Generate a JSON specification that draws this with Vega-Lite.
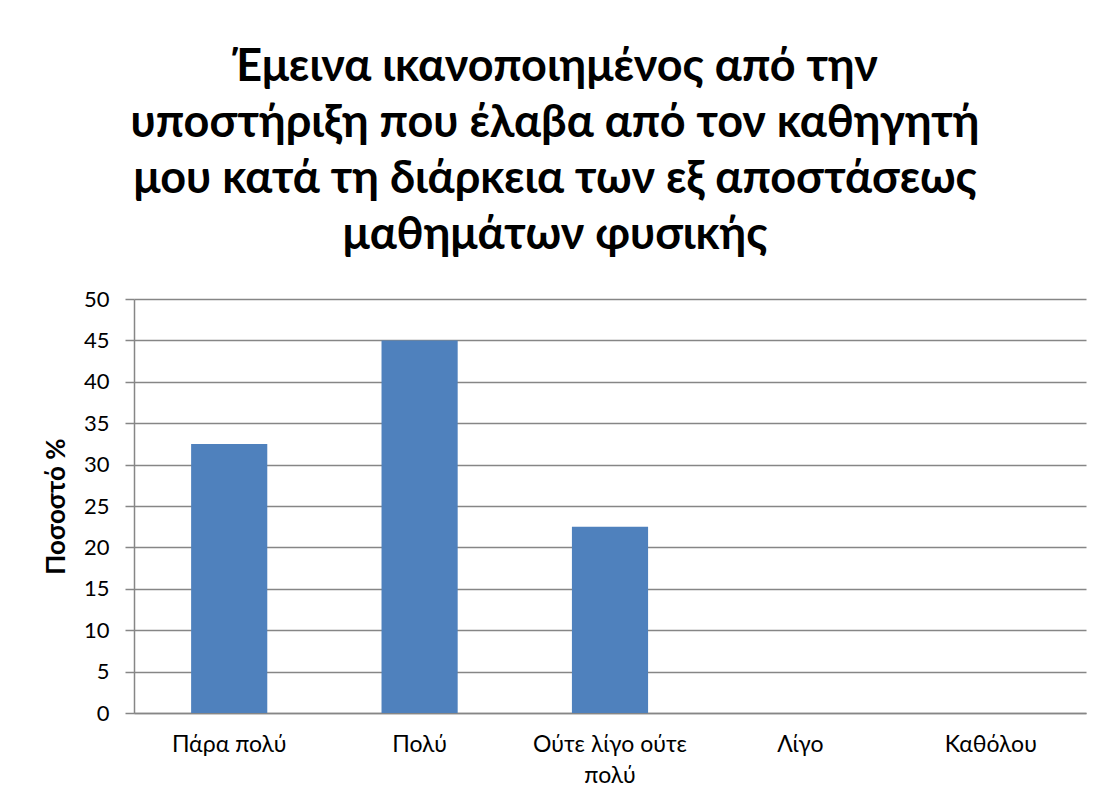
{
  "$schema": "https://vega.github.io/schema/vega-lite/v6.json",
  "autosize": "none",
  "width": 952,
  "height": 414,
  "padding": {"left": 134, "top": 299, "right": 18, "bottom": 92},
  "background": "white",
  "title": {
    "text": ["Έμεινα ικανοποιημένος από την", "υποστήριξη που έλαβα από τον καθηγητή", "μου κατά τη διάρκεια των εξ αποστάσεως", "μαθημάτων φυσικής"],
    "font": "Lato",
    "fontSize": 45,
    "fontWeight": "bold",
    "color": "black",
    "lineHeight": 56,
    "anchor": "middle",
    "dx": -55,
    "offset": 30
  },
  "data": {
    "values": [
      {"category": "Πάρα πολύ", "value": 32.5},
      {"category": "Πολύ", "value": 45},
      {"category": "Ούτε λίγο ούτε πολύ", "value": 22.5},
      {"category": "Λίγο", "value": 0},
      {"category": "Καθόλου", "value": 0}
    ]
  },
  "config": {
    "view": {"stroke": null},
    "font": "Lato"
  },
  "mark": {"type": "bar", "color": "#4F81BD"},
  "encoding": {
    "x": {
      "field": "category",
      "type": "nominal",
      "sort": null,
      "scale": {"paddingInner": 0.6, "paddingOuter": 0.3},
      "axis": {
        "title": null,
        "labelAngle": 0,
        "labelFont": "Lato",
        "labelFontSize": 23,
        "labelColor": "black",
        "labelPadding": 20,
        "labelLineHeight": 31,
        "labelExpr": "datum.label == 'Ούτε λίγο ούτε πολύ' ? ['Ούτε λίγο ούτε', 'πολύ'] : datum.label",
        "ticks": false,
        "domainColor": "#868686",
        "domainWidth": 1.5,
        "grid": false
      }
    },
    "y": {
      "field": "value",
      "type": "quantitative",
      "scale": {"domain": [0, 50], "nice": false},
      "axis": {
        "title": "Ποσοστό %",
        "titleFont": "Lato",
        "titleFontSize": 26,
        "titleFontWeight": "bold",
        "titleColor": "black",
        "titlePadding": 14,
        "values": [0, 5, 10, 15, 20, 25, 30, 35, 40, 45, 50],
        "labelFont": "Lato",
        "labelFontSize": 22,
        "labelColor": "black",
        "labelPadding": 16,
        "tickSize": 9,
        "tickColor": "#868686",
        "tickWidth": 1.5,
        "domainColor": "#868686",
        "domainWidth": 1.5,
        "grid": true,
        "gridColor": "#868686",
        "gridWidth": 1.5
      }
    }
  }
}
